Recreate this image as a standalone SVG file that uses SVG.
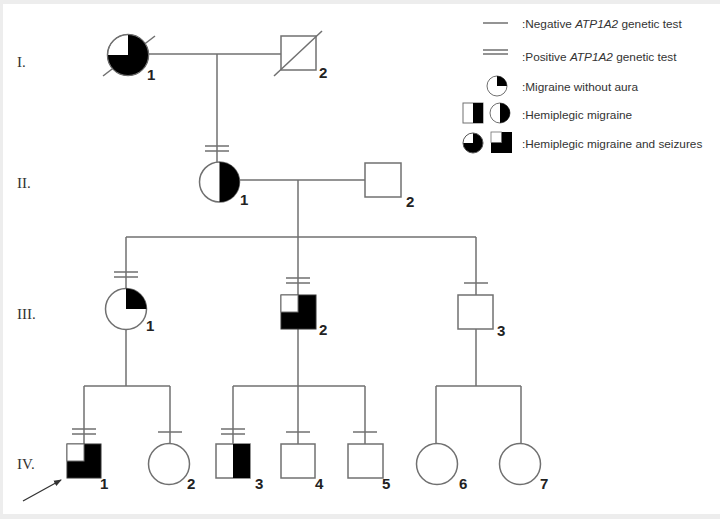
<svg xmlns="http://www.w3.org/2000/svg" width="720" height="519" viewBox="0 0 720 519">
<defs>
<style>
.ln{stroke:#707070;stroke-width:1.5;fill:none}
.sh{stroke:#707070;stroke-width:1.5;fill:#fff}
.bk{fill:#000;stroke:none}
.num{font-family:"Liberation Sans",Arial,sans-serif;font-size:15px;font-weight:bold;fill:#222}
.gen{font-family:"Liberation Serif","Times New Roman",serif;font-size:15px;fill:#333}
.lg{font-family:"Liberation Sans",Arial,sans-serif;font-size:11.8px;fill:#333}
</style>
<marker id="ah" markerWidth="8" markerHeight="8" refX="7" refY="4" orient="auto" markerUnits="userSpaceOnUse">
<path d="M0,1 L8,4 L0,7 Z" fill="#333"/>
</marker>
</defs>
<rect x="0" y="0" width="720" height="519" fill="#ededed"/>
<rect x="3" y="4" width="717" height="510" fill="#fff"/>

<g id="generation-labels">
<text class="gen" x="17" y="67">I.</text>
<text class="gen" x="17" y="188">II.</text>
<text class="gen" x="17" y="319">III.</text>
<text class="gen" x="17" y="469">IV.</text>
</g>

<g id="connectors">
<path class="ln" d="M148,54 H281"/>
<path class="ln" d="M217,54 V162"/>
<path class="ln" d="M240,180 H365"/>
<path class="ln" d="M298,180 V237"/>
<path class="ln" d="M126,237 H476"/>
<path class="ln" d="M126,237 V288.5"/>
<path class="ln" d="M298,237 V295"/>
<path class="ln" d="M476,237 V295"/>
<path class="ln" d="M126,329.5 V386"/>
<path class="ln" d="M84,386 H170"/>
<path class="ln" d="M84,386 V444"/>
<path class="ln" d="M170,386 V443.5"/>
<path class="ln" d="M298,329 V386"/>
<path class="ln" d="M233,386 H365"/>
<path class="ln" d="M233,386 V444"/>
<path class="ln" d="M298,386 V444"/>
<path class="ln" d="M365,386 V444"/>
<path class="ln" d="M476,329 V386"/>
<path class="ln" d="M436,386 H521"/>
<path class="ln" d="M436,386 V443.5"/>
<path class="ln" d="M521,386 V443.5"/>
<!-- genetic test marks -->
<path class="ln" d="M205,146 H229 M205,151 H229"/>
<path class="ln" d="M114,272 H138 M114,277 H138"/>
<path class="ln" d="M286,278 H310 M286,283 H310"/>
<path class="ln" d="M464,283 H488"/>
<path class="ln" d="M72,429 H96 M72,434 H96"/>
<path class="ln" d="M158,432 H182"/>
<path class="ln" d="M221,429 H245 M221,434 H245"/>
<path class="ln" d="M286,432 H310"/>
<path class="ln" d="M353,432 H377"/>
<!-- proband arrow -->
<path d="M23,501 L61,480" stroke="#333" stroke-width="1.3" fill="none" marker-end="url(#ah)"/>
</g>

<g id="I-1">
<path class="ln" d="M103,76 L155,36"/>
<circle class="sh" cx="128" cy="55" r="20.5"/>
<path class="bk" d="M128,55 L128,34.5 A20.5,20.5 0 1 1 107.5,55 Z"/>
<circle cx="128" cy="55" r="20.5" fill="none" stroke="#707070" stroke-width="1"/>
<text class="num" x="147" y="80">1</text>
</g>

<g id="I-2">
<rect class="sh" x="281" y="36" width="35" height="34"/>
<path class="ln" d="M274,76 L322,31"/>
<text class="num" x="319" y="78">2</text>
</g>

<g id="II-1">
<circle class="sh" cx="219.5" cy="182" r="20"/>
<path class="bk" d="M219.5,162 A20,20 0 0 1 219.5,202 Z"/>
<text class="num" x="240" y="205">1</text>
</g>

<g id="II-2">
<rect class="sh" x="365" y="163" width="36" height="34"/>
<text class="num" x="406" y="207">2</text>
</g>

<g id="III-1">
<circle class="sh" cx="126" cy="309" r="20.5"/>
<path class="bk" d="M126,309 L126,288.5 A20.5,20.5 0 0 1 146.5,309 Z"/>
<text class="num" x="146" y="331">1</text>
</g>

<g id="III-2">
<rect x="281" y="295" width="35" height="34" fill="#000" stroke="#333" stroke-width="1"/>
<rect x="281" y="295" width="17" height="17" fill="#fff" stroke="#707070" stroke-width="1"/>
<text class="num" x="319" y="335">2</text>
</g>

<g id="III-3">
<rect class="sh" x="458" y="295" width="35" height="34"/>
<text class="num" x="497" y="336">3</text>
</g>

<g id="IV-1">
<rect x="67" y="444" width="34" height="34" fill="#000" stroke="#333" stroke-width="1"/>
<rect x="67" y="444" width="17" height="17" fill="#fff" stroke="#707070" stroke-width="1"/>
<text class="num" x="100" y="489">1</text>
</g>

<g id="IV-2">
<circle class="sh" cx="169" cy="464" r="20.5"/>
<text class="num" x="187" y="489">2</text>
</g>

<g id="IV-3">
<rect class="sh" x="216" y="444" width="34" height="34"/>
<rect class="bk" x="233" y="444" width="17" height="34"/>
<text class="num" x="255" y="489">3</text>
</g>

<g id="IV-4">
<rect class="sh" x="281" y="444" width="34" height="34"/>
<text class="num" x="315" y="489">4</text>
</g>

<g id="IV-5">
<rect class="sh" x="348" y="444" width="35" height="34"/>
<text class="num" x="382" y="489">5</text>
</g>

<g id="IV-6">
<circle class="sh" cx="437" cy="464" r="20.5"/>
<text class="num" x="459" y="489">6</text>
</g>

<g id="IV-7">
<circle class="sh" cx="520" cy="464" r="20.5"/>
<text class="num" x="540" y="489">7</text>
</g>

<g id="legend">
<path class="ln" d="M483,23 H508"/>
<text class="lg" x="522" y="28">:Negative <tspan font-style="italic">ATP1A2</tspan> genetic test</text>
<path class="ln" d="M483,50 H508 M483,54 H508"/>
<text class="lg" x="522" y="61">:Positive <tspan font-style="italic">ATP1A2</tspan> genetic test</text>
<circle cx="497" cy="86" r="10" fill="#fff" stroke="#707070" stroke-width="1"/>
<path class="bk" d="M497,86 L497,76 A10,10 0 0 1 507,86 Z"/>
<text class="lg" x="522" y="91">:Migraine without aura</text>
<rect x="463" y="103" width="20" height="20" fill="#fff" stroke="#707070" stroke-width="1"/>
<rect class="bk" x="473" y="103" width="10" height="20"/>
<circle cx="500" cy="113" r="10" fill="#fff" stroke="#707070" stroke-width="1"/>
<path class="bk" d="M500,103 A10,10 0 0 1 500,123 Z"/>
<text class="lg" x="522" y="118.5">:Hemiplegic migraine</text>
<path class="bk" d="M473,143 L473,133 A10,10 0 1 1 463,143 Z"/>
<circle cx="473" cy="143" r="10" fill="none" stroke="#555" stroke-width="1"/>
<rect x="491" y="132" width="21" height="21" fill="#000"/>
<rect x="491" y="132" width="10.5" height="10.5" fill="#fff" stroke="#707070" stroke-width="0.8"/>
<text class="lg" x="522" y="147.5">:Hemiplegic migraine and seizures</text>
</g>
</svg>
